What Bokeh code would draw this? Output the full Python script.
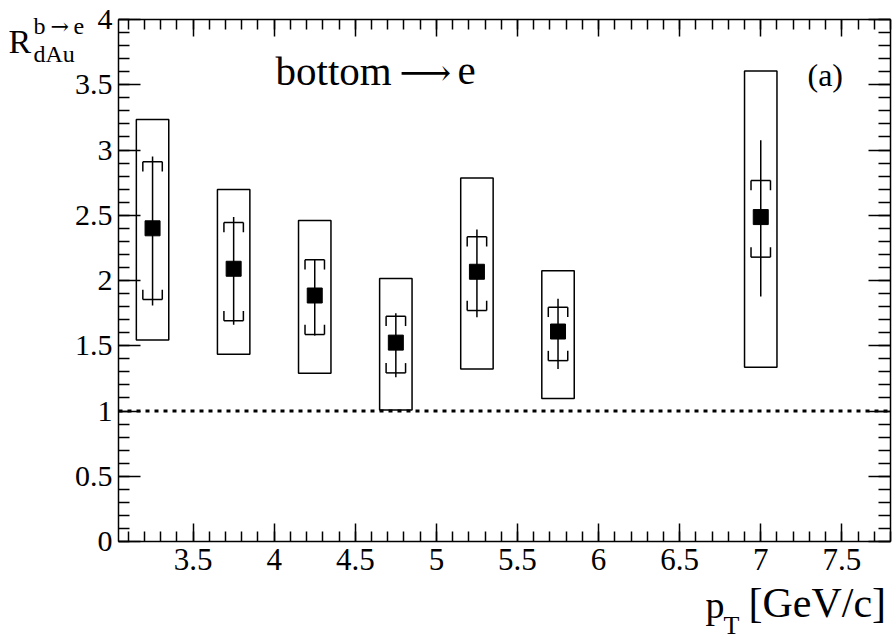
from bokeh.plotting import figure
from bokeh.models import (Range1d, LinearAxis, SingleIntervalTicker, Label,
                          CustomJSTickFormatter, CustomLabelingPolicy, ColumnDataSource)
from bokeh.embed import file_html
from bokeh.resources import INLINE

# ---- data ----
pt = [3.25, 3.75, 4.25, 4.75, 5.25, 5.75, 7.0]
r_dau = [2.40, 2.09, 1.885, 1.524, 2.067, 1.609, 2.486]
stat_hi = [2.951, 2.486, 2.159, 1.749, 2.391, 1.860, 3.074]
stat_lo = [1.808, 1.660, 1.578, 1.258, 1.719, 1.322, 1.877]
brk_hi = [2.910, 2.445, 2.159, 1.726, 2.335, 1.795, 2.767]
brk_lo = [1.854, 1.691, 1.586, 1.292, 1.770, 1.386, 2.179]
box_hi = [3.233, 2.698, 2.460, 2.015, 2.785, 2.074, 3.606]
box_lo = [1.545, 1.435, 1.289, 1.008, 1.322, 1.095, 1.335]
ref_y = 1.0

X0, X1 = 3.04, 7.80     # axis limits
Y0, Y1 = 0.0, 4.0
W, H = 893, 642
FL, FR, FT, FB = 118, 890, 19, 541   # axis box edges in px

FONT = "Liberation Serif"
ARROW_FONT = "DejaVu Serif"
MID = {FONT: 0.3375, ARROW_FONT: 0.346}   # em-box middle above the baseline

sx = (X1 - X0) / (FR - FL)
sy = (Y1 - Y0) / (FB - FT)
xr = Range1d(X0 - FL * sx, X1 + (W - FR) * sx)
yr = Range1d(Y0 - (H - FB) * sy, Y1 + FT * sy)

p = figure(width=W, height=H, output_backend="svg", toolbar_location=None,
           x_range=xr, y_range=yr, x_axis_type=None, y_axis_type=None,
           min_border=0)
p.grid.visible = False
p.outline_line_color = None
p.background_fill_color = "white"
p.border_fill_color = "white"


def px2x(px):
    return X0 + (px - FL) * sx


def py2y(py):
    return Y0 + (FB - py) * sy


fmt = CustomJSTickFormatter(code="return String(Math.round(tick*10)/10)")


def make_axis(bounds, loc, tick_in, minor_in, labels, font_size, standoff):
    ax = LinearAxis(ticker=SingleIntervalTicker(interval=0.5, num_minor_ticks=5),
                    formatter=fmt, bounds=bounds, fixed_location=loc)
    ax.axis_line_width = 1.5
    ax.major_tick_line_width = 1.5
    ax.minor_tick_line_width = 1.5
    ax.major_tick_in = tick_in
    ax.major_tick_out = 0
    ax.minor_tick_in = minor_in
    ax.minor_tick_out = 0
    ax.major_label_text_font = FONT
    ax.major_label_text_color = "black"
    if labels:
        ax.major_label_text_font_size = font_size
        ax.major_label_standoff = standoff
    else:
        ax.major_label_policy = CustomLabelingPolicy(code="")
        ax.major_label_text_font_size = "0px"
        ax.major_label_standoff = 0
    return ax


p.add_layout(make_axis((X0, X1), Y0, 18, 10, True, "31px", 7), "below")
p.add_layout(make_axis((Y0, Y1), X0, 22, 11, True, "30px", 6), "left")
p.add_layout(make_axis((X0, X1), Y1, 17, 10, False, "0px", 0), "above")
p.add_layout(make_axis((Y0, Y1), X1, 22, 12, False, "0px", 0), "right")

# reference line at 1
p.segment(x0=[X0], y0=[ref_y], x1=[X1], y1=[ref_y], line_color="black",
          line_width=3, line_dash="4 5")

BOX_HW = 0.1
BRK_HW = 0.06
BRK_TICK = 0.075

src = ColumnDataSource(dict(
    x=pt, y=r_dau, shi=stat_hi, slo=stat_lo, bhi=brk_hi, blo=brk_lo,
    qhi=box_hi, qlo=box_lo,
    xl=[v - BOX_HW for v in pt], xr=[v + BOX_HW for v in pt],
    bl=[v - BRK_HW for v in pt], br=[v + BRK_HW for v in pt],
    bhi_t=[v - BRK_TICK for v in brk_hi], blo_t=[v + BRK_TICK for v in brk_lo],
))

p.quad(left="xl", right="xr", bottom="qlo", top="qhi", source=src,
       fill_color=None, line_color="black", line_width=1.5)
p.segment(x0="x", y0="slo", x1="x", y1="shi", source=src,
          line_color="black", line_width=1.5)
# brackets
for a, b, c, d in [("bl", "bhi", "br", "bhi"), ("bl", "bhi", "bl", "bhi_t"),
                   ("br", "bhi", "br", "bhi_t"), ("bl", "blo", "br", "blo"),
                   ("bl", "blo", "bl", "blo_t"), ("br", "blo", "br", "blo_t")]:
    p.segment(x0=a, y0=b, x1=c, y1=d, source=src, line_color="black", line_width=1.5)
p.scatter("x", "y", source=src, marker="square", size=15, color="black")


def lab(text, px, base_py, size, font=FONT):
    """Place text so that its baseline lands at base_py (page px)."""
    anchor_py = base_py - MID[font] * size
    p.add_layout(Label(x=px2x(px), y=py2y(anchor_py), text=text,
                       text_font=font, text_font_size=f"{size}px", text_color="black",
                       text_align="left", text_baseline="alphabetic"))


# in-plot texts
lab("bottom", 275, 84, 41)
lab("\u27f6", 399, 84, 36, font=ARROW_FONT)
lab("e", 457, 84, 41)
lab("(a)", 807, 85, 32)

# x-axis title  p_T [GeV/c]
lab("p", 705, 617, 38)
lab("T", 723, 634, 26)
lab("[GeV/c]", 748, 617, 42)

# y-axis title  R^{b->e}_{dAu} (upright, in the free corner left of the axis)
lab("R", 8, 52, 34)
lab("b", 33, 34, 24)
lab("\u2192", 50, 34, 22, font=ARROW_FONT)
lab("e", 73, 34, 24)
lab("dAu", 33, 62, 24)

open("out.html", "w").write(file_html(p, INLINE))
